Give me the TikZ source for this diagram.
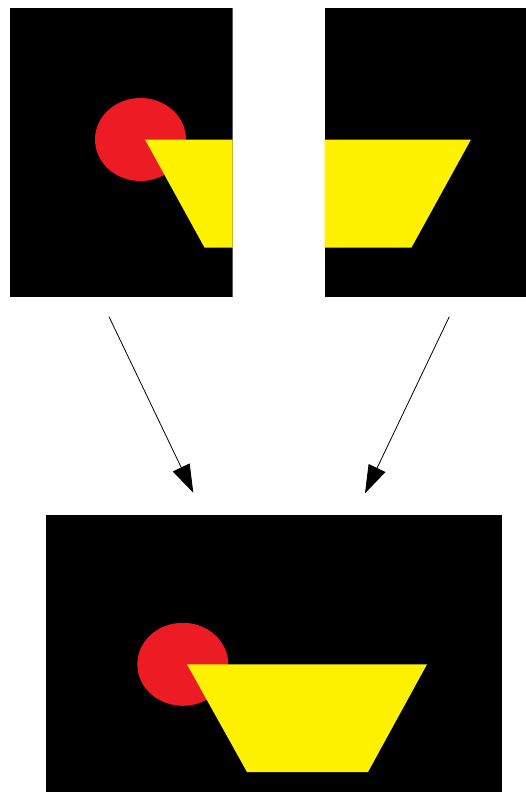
\documentclass[tikz,border=0pt]{standalone}
\usetikzlibrary{arrows.meta}
\definecolor{shred}{HTML}{ED1C24}
\definecolor{shyellow}{HTML}{FFF200}
\begin{document}
\begin{tikzpicture}[x=1pt,y=-1pt,
  panel/.style={fill=black,draw=none},
  blob/.style={fill=shred,draw=none},
  tray/.style={fill=shyellow,draw=none},
  conn/.style={draw=black,line width=0.8pt,-{Triangle[length=28pt,width=18.5pt]}}]
\useasboundingbox (0,0) rectangle (526,792);
% top-left panel
\begin{scope}
  \clip (10,8) rectangle (232.5,297);
  \fill[panel] (10,8) rectangle (232.5,297);
  \fill[blob] (140.5,139.5) ellipse [x radius=45.5, y radius=41.5];
  \fill[tray] (145,139.5) -- (385,139.5) -- (326,247.5) -- (204.5,247.5) -- cycle;
\end{scope}
% top-right panel
\begin{scope}
  \clip (324.5,8) rectangle (526,297);
  \fill[panel] (324.5,8) rectangle (526,297);
  \fill[blob] (228,139.5) ellipse [x radius=45.5, y radius=41.5];
  \fill[tray] (231,139.5) -- (471,139.5) -- (411.5,247.5) -- (291,247.5) -- cycle;
\end{scope}
% bottom panel
\begin{scope}
  \clip (46,515) rectangle (502,792);
  \fill[panel] (46,515) rectangle (502,792);
  \fill[blob] (182.8,664.3) ellipse [x radius=45.5, y radius=41.5];
  \fill[tray] (187,664.3) -- (427,664.3) -- (368,772) -- (247,772) -- cycle;
\end{scope}
% connectors
\coordinate (la) at (109,316.7);
\coordinate (lb) at (193.3,492.7);
\coordinate (ra) at (449.3,316.7);
\coordinate (rb) at (365,493.3);
\draw[conn] (la) -- (lb);
\draw[conn] (ra) -- (rb);
\end{tikzpicture}
\end{document}
